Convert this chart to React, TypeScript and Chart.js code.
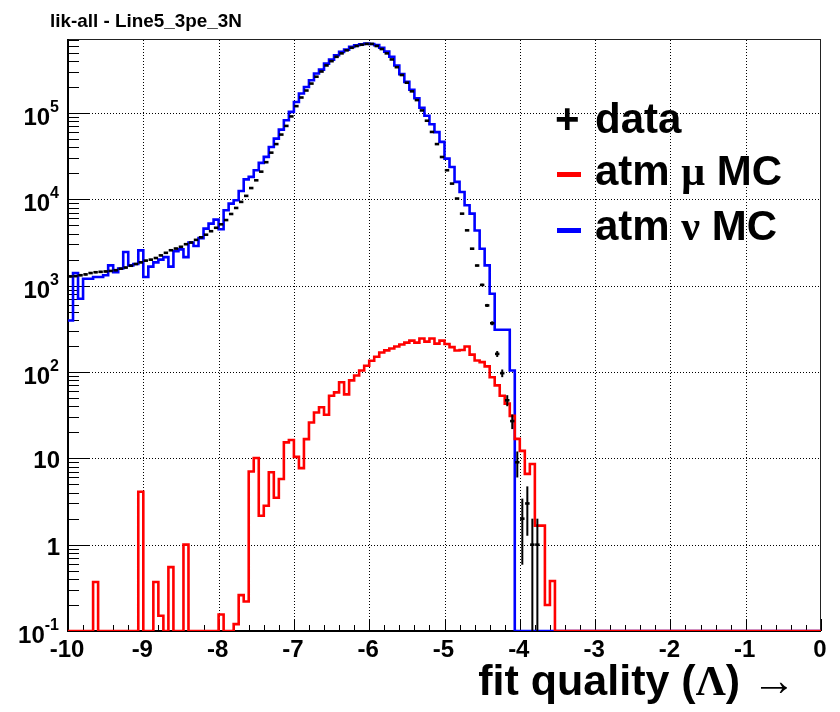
import { useEffect, useRef } from "react";
import { Chart, registerables } from "chart.js";

Chart.register(...registerables);

// ---- axis ranges / ticks ----
const X_MIN = -10;
const X_MAX = 0;
const Y_MIN = 0.1;
const Y_MAX = 7e5;
const BIN_WIDTH = 1 / 15; // 150 bins from -10 to 0

const xTickValues = [-10, -9, -8, -7, -6, -5, -4, -3, -2, -1, 0];
const xTickLabels = ["-10", "-9", "-8", "-7", "-6", "-5", "-4", "-3", "-2", "-1", "0"];
const yTickValues = [0.1, 1, 10, 100, 1000, 10000, 100000];
const yTickBase = ["10", "1", "10", "10", "10", "10", "10"];
const yTickExp = ["-1", "", "", "2", "3", "4", "5"];

const titleText = "lik-all - Line5_3pe_3N";
const legendLabels = ["data", "atm μ MC", "atm ν MC"];

// ---- series: per-bin contents (150 bins) ----
// data (black points)
const dataCounts = [
  1280, 1290, 1320, 1350, 1400, 1430, 1445, 1460, 1480, 1510,
  1570, 1620, 1700, 1780, 1860, 1950, 2000, 2090, 2240, 2400,
  2570, 2690, 2820, 3020, 3160, 3390, 3630, 3890, 4270, 4680,
  5130, 5750, 6760, 7940, 9330, 10960, 13500, 16600, 20900, 26900,
  34700, 43600, 56200, 70800, 91200, 120000, 151000, 182000, 219000, 263000,
  302000, 355000, 398000, 447000, 490000, 531000, 569000, 596000, 617000, 631000,
  631000, 596000, 550000, 490000, 417000, 339000, 275000, 224000, 178000, 141000,
  107000, 81300, 60300, 43600, 30900, 21700, 15200, 10200, 6820, 4370,
  2680, 1710, 1020, 590, 367, 162, 97, 47, 27, 9,
  2, 3, 1, 1, 0, 0, 0, 0, 0, 0,
  0, 0, 0, 0, 0, 0, 0, 0, 0, 0,
  0, 0, 0, 0, 0, 0, 0, 0, 0, 0,
  0, 0, 0, 0, 0, 0, 0, 0, 0, 0,
  0, 0, 0, 0, 0, 0, 0, 0, 0, 0,
  0, 0, 0, 0, 0, 0, 0, 0, 0, 0,
];

// atm mu MC (red)
const atmMuMC = [
  0, 0, 0, 0, 0, 0.37, 0, 0, 0, 0,
  0, 0, 0, 0, 4.1, 0, 0, 0.37, 0.15, 0,
  0.55, 0, 0, 1.0, 0, 0, 0, 0, 0, 0,
  0.155, 0, 0, 0.12, 0.26, 0.22, 7.05, 10.1, 2.16, 2.82,
  6.9, 3.5, 5.75, 15.3, 16.3, 10.4, 7.7, 16.7, 26, 34,
  39, 32, 53, 58, 76, 55, 80, 91, 104, 118,
  135, 150, 168, 178, 187, 197, 208, 219, 231, 219,
  244, 225, 244, 213, 231, 211, 194, 177, 180, 197,
  159, 136, 130, 116, 87, 70, 53, 43, 31, 16.8,
  12.2, 6.6, 8.6, 1.66, 1.66, 0.2, 0.38, 0, 0, 0,
  0, 0, 0, 0, 0, 0, 0, 0, 0, 0,
  0, 0, 0, 0, 0, 0, 0, 0, 0, 0,
  0, 0, 0, 0, 0, 0, 0, 0, 0, 0,
  0, 0, 0, 0, 0, 0, 0, 0, 0, 0,
  0, 0, 0, 0, 0, 0, 0, 0, 0, 0,
];

// atm nu MC (blue)
const atmNuMC = [
  395, 1400, 705, 1200, 1200, 1260, 1260, 1320, 1715, 1435,
  1580, 2450, 1715, 1780, 2560, 1257, 1660, 1860, 2000, 2140,
  1660, 2510, 2630, 2140, 3160, 2880, 3550, 4570, 5230, 5820,
  4500, 7460, 8920, 9750, 12500, 17000, 18200, 21700, 26400, 31000,
  40400, 50500, 64200, 82400, 103000, 134000, 168000, 200000, 239000, 286000,
  318000, 373000, 415000, 466000, 510000, 542000, 582000, 609000, 625000, 636000,
  630000, 610000, 569000, 513000, 447000, 355000, 282000, 229000, 186000, 148000,
  115000, 93000, 74000, 60000, 46200, 29600, 23700, 15900, 12150, 8520,
  6820, 4360, 2680, 1715, 805, 308, 308, 308, 104, 0,
  0, 0, 0, 0, 0, 0, 0, 0, 0, 0,
  0, 0, 0, 0, 0, 0, 0, 0, 0, 0,
  0, 0, 0, 0, 0, 0, 0, 0, 0, 0,
  0, 0, 0, 0, 0, 0, 0, 0, 0, 0,
  0, 0, 0, 0, 0, 0, 0, 0, 0, 0,
  0, 0, 0, 0, 0, 0, 0, 0, 0, 0,
];

const SANS = "'Liberation Sans', Arial, Helvetica, sans-serif";
const SERIF = "'Liberation Serif', 'Times New Roman', serif";

// points at each bin's low edge, plus the closing point at the upper axis edge;
// drawn with stepped "before" (horizontal first) this yields a histogram outline
function stepPoints(values: number[]) {
  const pts = values.map((v, i) => ({ x: X_MIN + i * BIN_WIDTH, y: v > 0 ? v : Y_MIN }));
  const last = values[values.length - 1];
  pts.push({ x: X_MAX, y: last > 0 ? last : Y_MIN });
  return pts;
}

type Run = { text: string; font: string };
function drawRuns(ctx: CanvasRenderingContext2D, runs: Run[], x: number, y: number, align: "left" | "right") {
  let total = 0;
  const widths = runs.map((r) => {
    ctx.font = r.font;
    const w = ctx.measureText(r.text).width;
    total += w;
    return w;
  });
  let cx = align === "left" ? x : x - total;
  ctx.textAlign = "left";
  runs.forEach((r, i) => {
    ctx.font = r.font;
    ctx.fillText(r.text, cx, y);
    cx += widths[i];
  });
}

const rootPlugin = {
  id: "rootStyle",
  beforeDatasetsDraw(chart: any) {
    const ctx: CanvasRenderingContext2D = chart.ctx;
    const xs = chart.scales.x;
    const ys = chart.scales.y;
    const { left, right, top, bottom } = chart.chartArea;
    ctx.save();
    // dotted grid
    ctx.strokeStyle = "#000";
    ctx.lineWidth = 1;
    ctx.setLineDash([1, 2]);
    xTickValues.forEach((v) => {
      if (v === X_MIN || v === X_MAX) return;
      const px = Math.round(xs.getPixelForValue(v)) + 0.5;
      ctx.beginPath();
      ctx.moveTo(px, top);
      ctx.lineTo(px, bottom);
      ctx.stroke();
    });
    yTickValues.forEach((v) => {
      if (v === Y_MIN) return;
      const py = Math.round(ys.getPixelForValue(v)) + 0.5;
      ctx.beginPath();
      ctx.moveTo(left, py);
      ctx.lineTo(right, py);
      ctx.stroke();
    });
    ctx.setLineDash([]);
    // frame
    ctx.strokeStyle = "#222";
    ctx.lineWidth = 1;
    ctx.strokeRect(left + 0.5, top - 0.5, right - left - 1, bottom - top);
    ctx.strokeStyle = "#000";
    ctx.lineWidth = 2;
    ctx.beginPath();
    ctx.moveTo(left, top - 1);
    ctx.lineTo(left, bottom);
    ctx.lineTo(right, bottom);
    ctx.stroke();
    // y ticks
    ctx.lineWidth = 1;
    yTickValues.forEach((v) => {
      const py = Math.round(ys.getPixelForValue(v)) + 0.5;
      ctx.beginPath();
      ctx.moveTo(left, py);
      ctx.lineTo(left + 22, py);
      ctx.stroke();
      for (let k = 2; k <= 9; k++) {
        const mv = v * k;
        if (mv > Y_MAX) break;
        const my = Math.round(ys.getPixelForValue(mv)) + 0.5;
        ctx.beginPath();
        ctx.moveTo(left, my);
        ctx.lineTo(left + 11, my);
        ctx.stroke();
      }
    });
    // x ticks
    for (let i = 0; i <= 50; i++) {
      const v = X_MIN + i * 0.2;
      const px = Math.round(xs.getPixelForValue(v)) + 0.5;
      const len = i % 5 === 0 ? 12 : 6;
      ctx.beginPath();
      ctx.moveTo(px, bottom);
      ctx.lineTo(px, bottom - len);
      ctx.stroke();
    }
    ctx.restore();
  },
  afterDatasetsDraw(chart: any) {
    const ctx: CanvasRenderingContext2D = chart.ctx;
    const xs = chart.scales.x;
    const ys = chart.scales.y;
    const { bottom } = chart.chartArea;
    ctx.save();
    // data points with error bars
    ctx.strokeStyle = "#000";
    dataCounts.forEach((v, i) => {
      if (v <= 0) return;
      const x0 = xs.getPixelForValue(X_MIN + i * BIN_WIDTH);
      const x1 = xs.getPixelForValue(X_MIN + (i + 1) * BIN_WIDTH);
      const xc = (x0 + x1) / 2;
      const yc = ys.getPixelForValue(v);
      const e = Math.sqrt(v);
      const yTop = ys.getPixelForValue(v + e);
      const yBot = v - e > Y_MIN ? ys.getPixelForValue(v - e) : bottom;
      ctx.lineWidth = 2;
      ctx.beginPath();
      ctx.moveTo(xc, yTop);
      ctx.lineTo(xc, yBot);
      ctx.stroke();
      ctx.lineWidth = 2.6;
      ctx.beginPath();
      ctx.moveTo(x0 + 0.3, yc);
      ctx.lineTo(x1 - 0.3, yc);
      ctx.stroke();
    });

    ctx.fillStyle = "#000";
    ctx.textBaseline = "alphabetic";
    // x tick labels
    ctx.font = `bold 24px ${SANS}`;
    ctx.textAlign = "center";
    xTickValues.forEach((v, i) => {
      ctx.fillText(xTickLabels[i], xs.getPixelForValue(v) - 1, 657);
    });
    // y tick labels
    yTickValues.forEach((v, i) => {
      const py = ys.getPixelForValue(v);
      const base = yTickBase[i];
      const exp = yTickExp[i];
      if (exp) {
        ctx.font = `bold 16px ${SANS}`;
        const ew = ctx.measureText(exp).width;
        ctx.textAlign = "right";
        ctx.fillText(exp, 59, py - 1);
        ctx.font = `bold 24px ${SANS}`;
        ctx.fillText(base, 59 - ew, py + 12);
      } else {
        ctx.font = `bold 24px ${SANS}`;
        ctx.textAlign = "right";
        ctx.fillText(base, 60, py + 10);
      }
    });
    // title
    ctx.font = `bold 19px ${SANS}`;
    ctx.textAlign = "left";
    ctx.fillText(titleText, 50, 27, 192);
    // x axis title
    drawRuns(
      ctx,
      [
        { text: "fit quality (", font: `bold 43px ${SANS}` },
        { text: "Λ", font: `bold 42px ${SERIF}` },
        { text: ") ", font: `bold 43px ${SANS}` },
        { text: "→", font: `44px ${SERIF}` },
      ],
      796,
      695,
      "right"
    );
    // legend
    ctx.font = `bold 42px ${SANS}`;
    ctx.textAlign = "left";
    ctx.fillText("+", 555, 133);
    ctx.fillStyle = "#ff0000";
    ctx.fillRect(557, 172, 24, 5);
    ctx.fillStyle = "#0000ff";
    ctx.fillRect(557, 228, 24, 5);
    ctx.fillStyle = "#000";
    ctx.fillText(legendLabels[0], 595, 133);
    const [muA, muB] = legendLabels[1].split("μ");
    drawRuns(
      ctx,
      [
        { text: muA, font: `bold 42px ${SANS}` },
        { text: "μ", font: `bold 42px ${SERIF}` },
        { text: muB, font: `bold 42px ${SANS}` },
      ],
      595,
      185,
      "left"
    );
    const [nuA, nuB] = legendLabels[2].split("ν");
    drawRuns(
      ctx,
      [
        { text: nuA, font: `bold 42px ${SANS}` },
        { text: "ν", font: `bold 42px ${SERIF}` },
        { text: nuB, font: `bold 42px ${SANS}` },
      ],
      595,
      240,
      "left"
    );
    ctx.restore();
  },
};

export default function App() {
  const ref = useRef<HTMLCanvasElement>(null);
  useEffect(() => {
    document.body.style.margin = "0";
    const canvas = ref.current!;
    const chart = new Chart(canvas, {
      type: "line",
      data: {
        datasets: [
          {
            label: legendLabels[2],
            data: stepPoints(atmNuMC),
            borderColor: "#0000ff",
            borderWidth: 2.6,
            pointRadius: 0,
            stepped: "before",
            fill: false,
            order: 2,
          },
          {
            label: legendLabels[1],
            data: stepPoints(atmMuMC),
            borderColor: "#ff0000",
            borderWidth: 2.6,
            pointRadius: 0,
            stepped: "before",
            fill: false,
            order: 1,
          },
        ],
      },
      options: {
        animation: false,
        responsive: false,
        devicePixelRatio: 1,
        layout: { padding: { left: 68, right: 19, top: 40, bottom: 81 } },
        scales: {
          x: { type: "linear", min: X_MIN, max: X_MAX, display: false },
          y: { type: "logarithmic", min: Y_MIN, max: Y_MAX, display: false },
        },
        plugins: {
          legend: { display: false },
          tooltip: { enabled: false },
          title: { display: false },
        },
        events: [],
      },
      plugins: [rootPlugin],
    } as any);
    return () => chart.destroy();
  }, []);
  return (
    <div style={{ width: 840, height: 712, background: "#fff", overflow: "hidden" }}>
      <canvas ref={ref} width={840} height={712} style={{ display: "block", width: 840, height: 712 }} />
    </div>
  );
}
